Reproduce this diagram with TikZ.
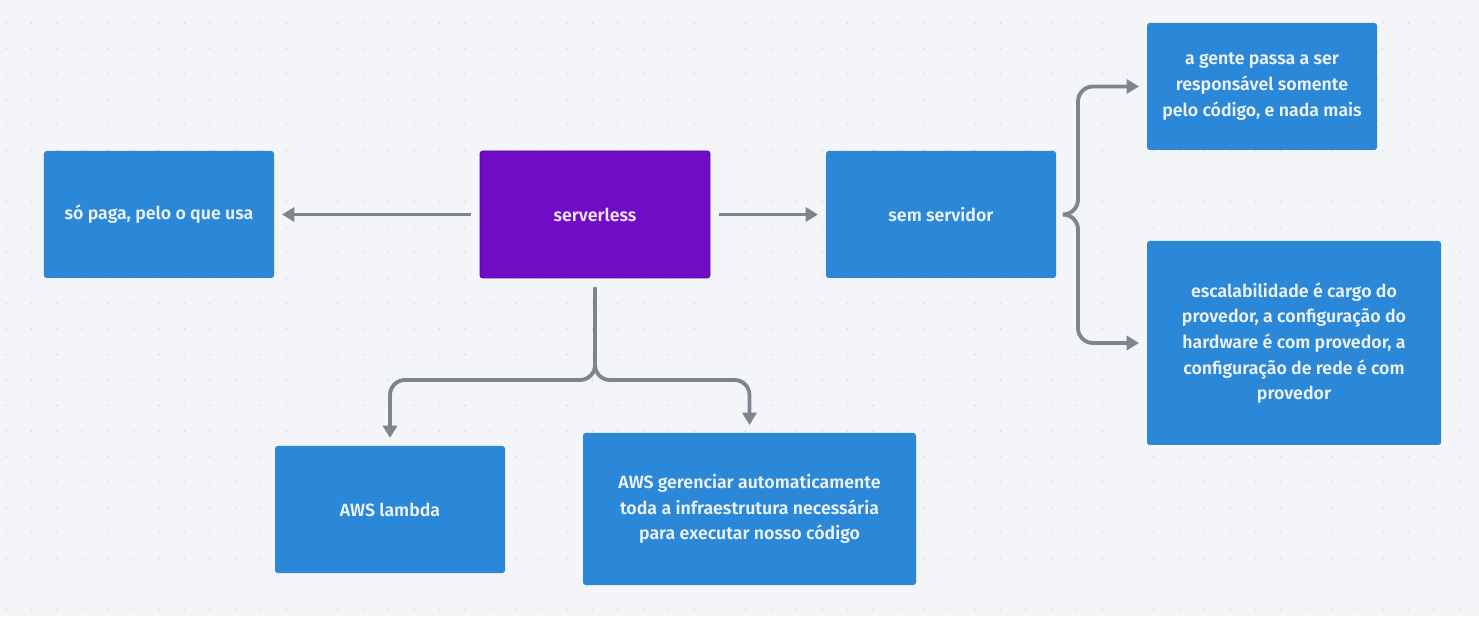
\documentclass[tikz,border=0pt]{standalone}
\usepackage{fontspec}
\setmainfont{Fira Sans}[BoldFont={Fira Sans SemiBold}]
\usetikzlibrary{arrows.meta}
\definecolor{canvas_bg}{RGB}{243,245,249}
\definecolor{canvas_dot}{RGB}{214,218,226}
\definecolor{node_blue}{RGB}{43,135,216}
\definecolor{node_purple}{RGB}{111,13,198}
\definecolor{edge_purple}{RGB}{80,10,140}
\definecolor{edge_gray}{RGB}{125,133,142}
\definecolor{text_light}{RGB}{236,242,250}
\definecolor{text_pink}{RGB}{245,225,250}

\begin{document}
\begin{tikzpicture}[semithick,>={Triangle[length=7pt,width=8pt]}]
    \tikzstyle{card}=[rectangle,rounded corners=1.5pt,minimum width=4.6cm,minimum height=2.54cm,align=center,inner sep=0pt,fill=node_blue,text=text_light,font=\fontsize{10.1}{14.6}\selectfont\bfseries]
    \tikzstyle{cardhub}=[style=card,fill=node_purple,draw=edge_purple,thin,text=text_pink]
    \tikzstyle{link}=[->,draw=edge_gray,line width=2.2pt,rounded corners=0.3cm,shorten <=0.18cm,shorten >=0.15cm]

    \fill[canvas_bg] (0,0) rectangle (29.58,12.32);
    \foreach \i in {0,...,57} \foreach \j in {0,...,23}
      \fill[canvas_dot] (0.12+0.51*\i,11.86-0.51*\j) circle (0.018);
    \useasboundingbox (0,0) rectangle (29.58,12.32);

    \node[cardhub] (hub)    at (11.9,8.03)  {serverless};
    \node[card]    (pay)    at (3.18,8.03)  {só paga, pelo o que usa};
    \node[card]    (noserv) at (18.82,8.03) {sem servidor};
    \node[card]    (code)   at (25.24,10.59) {a gente passa a ser\\responsável somente\\pelo código, e nada mais};
    \node[card,minimum width=5.88cm,minimum height=4.08cm] (scale) at (25.88,5.46)
      {escalabilidade é cargo do\\provedor, a configuração do\\hardware é com provedor, a\\configuração de rede é com\\provedor};
    \node[card]    (lambda) at (7.8,2.13)   {AWS lambda};
    \node[card,minimum width=6.66cm,minimum height=3.04cm] (infra) at (14.99,2.14)
      {AWS gerenciar automaticamente\\toda a infraestrutura necessária\\para executar nosso código};

    \coordinate (split) at (11.9,4.72);
    \coordinate (fork)  at (21.56,8.03);

    \draw[link] (hub) -- (pay);
    \draw[link] (hub) -- (noserv);
    \draw[link] (hub.south) -- (split) -| (lambda.north);
    \draw[link] (hub.south) -- (split) -| (infra.north);
    \draw[link] (noserv.east) -- (fork) |- (code.west);
    \draw[link] (noserv.east) -- (fork) |- (scale.west);
  \end{tikzpicture}
\end{document}
